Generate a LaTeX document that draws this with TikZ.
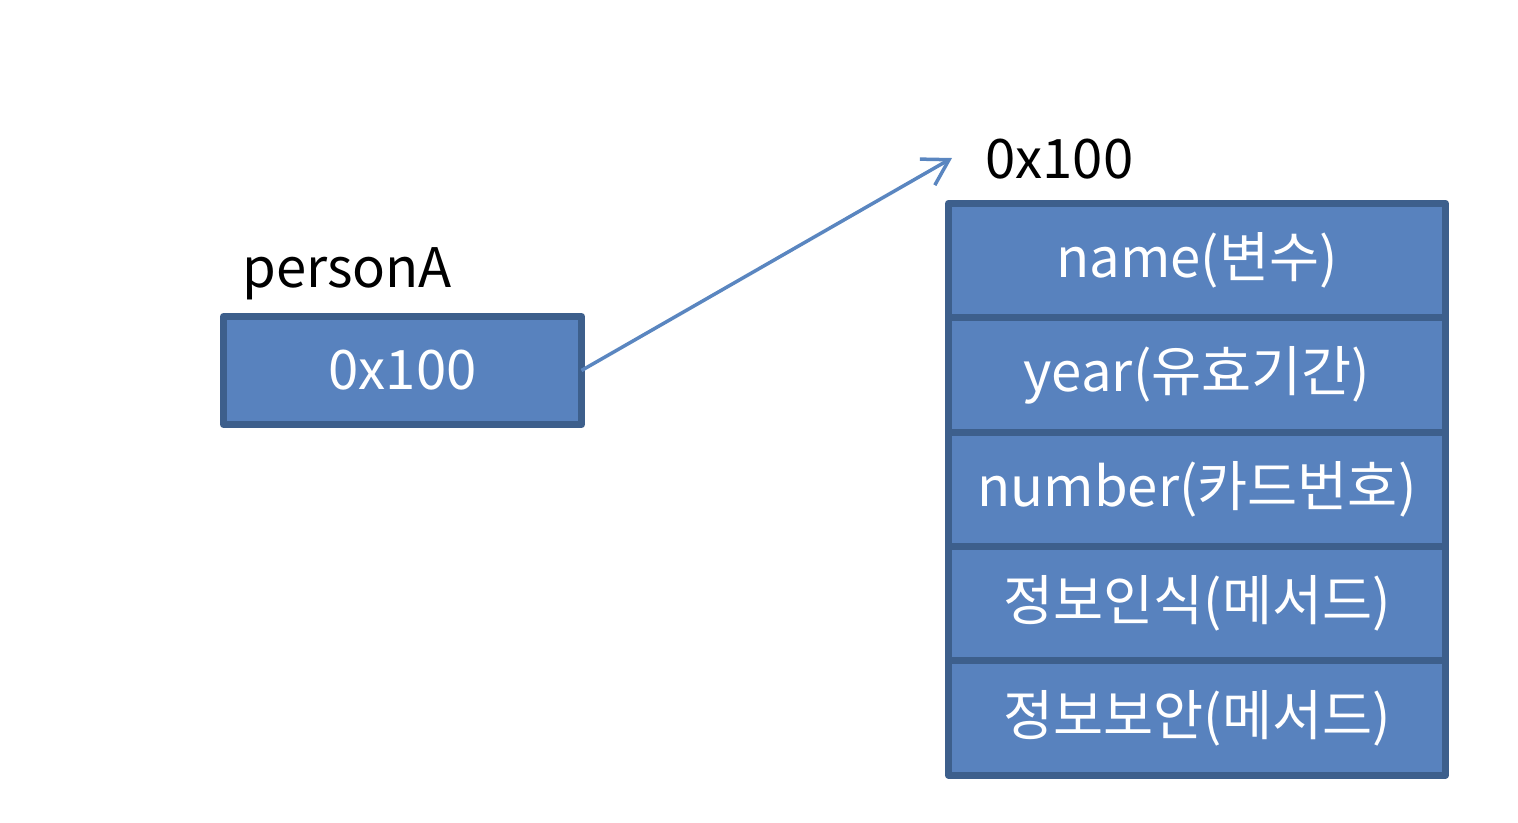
\documentclass[tikz,border=0pt]{standalone}
\usepackage{fontspec}
\setmainfont{Noto Sans CJK KR}
\usetikzlibrary{positioning,arrows.meta}
\definecolor{cellfill}{RGB}{88,130,190}
\definecolor{celledge}{RGB}{61,95,140}
\definecolor{linkblue}{RGB}{90,134,192}

\begin{document}
\begin{tikzpicture}[x=0.02cm,y=-0.02cm]

      \tikzset{cell/.style={draw=celledge, fill=cellfill, line width=0.14cm, line join=round, outer sep=0pt, inner sep=0pt,
               minimum width=9.94cm, minimum height=2.288cm, text=white, font=\fontsize{31}{36}\selectfont},
               tag/.style={inner sep=0pt, anchor=base west, font=\fontsize{31}{36}\selectfont}}
      \useasboundingbox (0,0) rectangle (1518,822);
%% Reference variable
      	\node[cell, minimum width=7.16cm, minimum height=2.16cm] (ref) at (402.5,370.5) {0x100};
      	\node[tag] (refname) at (242,287) {personA};
%% Object on the heap
      	\node[cell] (name) at (1197,260.5) {name(변수)};
      	\node[cell, below=0pt of name] (year) {year(유효기간)};
      	\node[cell, below=0pt of year] (number) {number(카드번호)};
      	\node[cell, below=0pt of number] (read) {정보인식(메서드)};
      	\node[cell, below=0pt of read] (secure) {정보보안(메서드)};
      	\node[tag] (addr) at (985,178) {0x100};
      	\coordinate (tip) at (952,158);
%Edges
		\path [-{Straight Barb[length=0.5cm, width=0.6cm]}, line width=0.07cm, linkblue] (ref.east) edge (tip);

	\end{tikzpicture}
\end{document}
